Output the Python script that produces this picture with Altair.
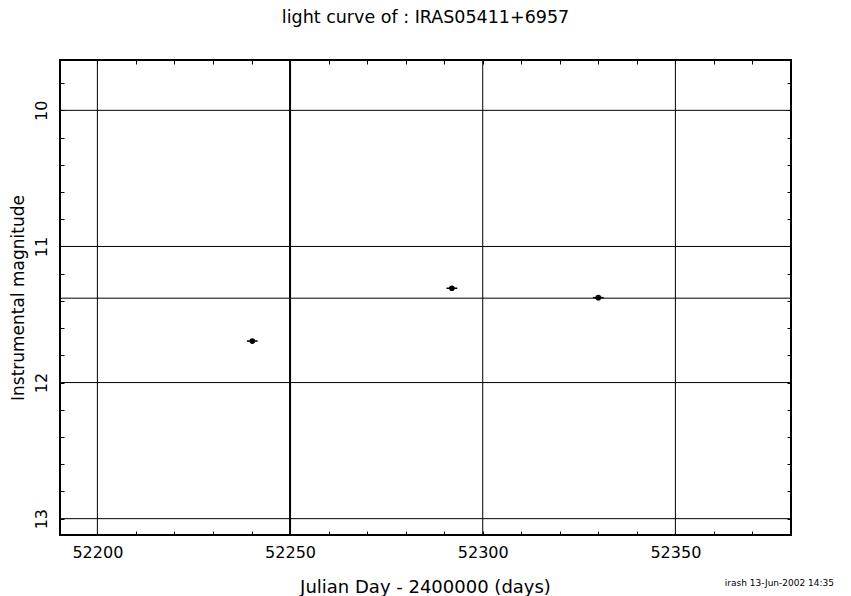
import altair as alt
import pandas as pd

# ---- data ----
jd = [52240.2, 52292.0, 52330.0]
mag = [11.695, 11.307, 11.376]
jd_lo = [52238.8, 52290.6, 52328.6]
jd_hi = [52241.6, 52293.4, 52331.4]

x_grid = [52200, 52300, 52350]
x_thick = [52250]
y_grid = [10, 11, 12, 13, 11.38]

x_ticks = [52200, 52210, 52220, 52230, 52240, 52250, 52260, 52270, 52280,
           52290, 52300, 52310, 52320, 52330, 52340, 52350, 52360, 52370]
y_ticks = [9.8, 10.0, 10.2, 10.4, 10.6, 10.8, 11.0, 11.2, 11.4, 11.6, 11.8,
           12.0, 12.2, 12.4, 12.6, 12.8, 13.0]

title_text = "light curve of : IRAS05411+6957"
x_title = "Julian Day - 2400000 (days)"
y_title = "Instrumental magnitude"
footer = ["irash 13-Jun-2002 14:35"]

FONT = "DejaVu Sans"
W, H = 731, 475

xs = alt.Scale(domain=[52190.3, 52380.0], nice=False, zero=False)
ys = alt.Scale(domain=[9.63, 13.12], reverse=True, nice=False, zero=False)

pts_df = pd.DataFrame({"jd": jd, "mag": mag, "lo": jd_lo, "hi": jd_hi})

x_axis_main = alt.Axis(
    orient="bottom", values=x_ticks, format="d",
    labelExpr="datum.value % 50 == 0 ? datum.label : ''",
    tickSize=4, tickColor="black", tickWidth=1, offset=-4, domain=False, grid=False,
    labelFont=FONT, labelFontSize=16, labelColor="black",
    labelBaseline="alphabetic", labelPadding=22, labelFlush=False, labelOverlap=False,
    title=x_title, titleFont=FONT, titleFontSize=18, titleFontWeight="normal",
    titleColor="black", titleBaseline="alphabetic", titleX=365, titleY=61,
    titleAnchor="middle",
)
y_axis_main = alt.Axis(
    orient="left", values=y_ticks,
    labelExpr="abs(datum.value - round(datum.value)) < 0.01 ? format(datum.value, 'd') : ''",
    tickSize=4, tickColor="black", tickWidth=1, offset=-4, domain=False, grid=False,
    labelFont=FONT, labelFontSize=16, labelColor="black", labelAngle=270,
    labelAlign="center", labelBaseline="alphabetic", labelPadding=14,
    labelFlush=False, labelOverlap=False,
    title=y_title, titleFont=FONT, titleFontSize=17, titleFontWeight="normal",
    titleColor="black", titleAngle=270, titleAlign="center",
    titleBaseline="alphabetic", titleX=-41, titleY=237.5,
)
x_axis_top = alt.Axis(
    orient="top", values=x_ticks, labels=False, tickSize=4, tickColor="black",
    tickWidth=1, offset=-4, domain=False, grid=False, title=None,
)
y_axis_right = alt.Axis(
    orient="right", values=y_ticks, labels=False, tickSize=4, tickColor="black",
    tickWidth=1, offset=-4, domain=False, grid=False, title=None,
)

grid_v = alt.Chart(pd.DataFrame({"x": x_grid})).mark_rule(
    color="black", strokeWidth=1
).encode(x=alt.X("x:Q", scale=xs, axis=x_axis_top))

thick_v = alt.Chart(pd.DataFrame({"x": x_thick})).mark_rule(
    color="black", strokeWidth=2
).encode(x=alt.X("x:Q", scale=xs, axis=None))

grid_h = alt.Chart(pd.DataFrame({"y": y_grid})).mark_rule(
    color="black", strokeWidth=1
).encode(y=alt.Y("y:Q", scale=ys, axis=y_axis_right))

err = alt.Chart(pts_df).mark_rule(color="black", strokeWidth=1.5).encode(
    x=alt.X("lo:Q", scale=xs, axis=None),
    x2="hi:Q",
    y=alt.Y("mag:Q", scale=ys, axis=None),
)

pts = alt.Chart(pts_df).mark_circle(color="black", size=32, opacity=1).encode(
    x=alt.X("jd:Q", scale=xs, axis=x_axis_main),
    y=alt.Y("mag:Q", scale=ys, axis=y_axis_main),
)

foot = alt.Chart(pd.DataFrame({"t": footer})).mark_text(
    font=FONT, fontSize=9, color="black", align="right", baseline="alphabetic"
).encode(x=alt.value(774), y=alt.value(526), text="t:N")

chart = alt.layer(pts, grid_v, thick_v, grid_h, err, foot).resolve_axis(
    x="independent", y="independent"
).properties(
    width=W, height=H,
    title=alt.TitleParams(title_text, font=FONT, fontSize=17.5, fontWeight="normal",
                          color="black", anchor="middle", offset=33),
    autosize=alt.AutoSizeParams(type="none"),
    padding={"left": 52, "top": 52, "right": 52, "bottom": 61},
    background="white",
).configure_view(stroke="black", strokeWidth=2)

chart.save("out.html", embed_options={"renderer": "svg", "actions": False})
